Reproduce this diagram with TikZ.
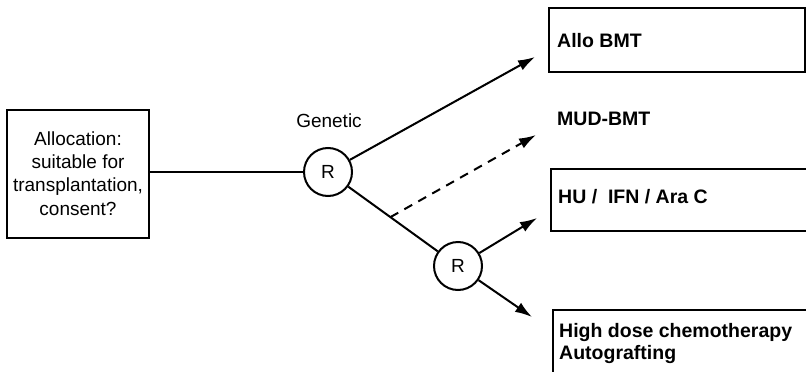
\documentclass[tikz,border=0pt]{standalone}
\usepackage{fontspec}
\setmainfont{Liberation Sans}
\usetikzlibrary{arrows.meta,calc}
\begin{document}
\begin{tikzpicture}[x=1pt,y=-1pt,
  box/.style={draw,line width=1.9pt,rectangle,inner sep=0pt},
  rnode/.style={draw,circle,line width=2pt,minimum size=48pt,inner sep=0pt,font=\fontsize{19}{20}\selectfont},
  lbl/.style={inner sep=0pt,font=\fontsize{19.5}{22}\selectfont\bfseries,anchor=base west},
  plain/.style={inner sep=0pt,font=\fontsize{19}{23.3}\selectfont},
  conn/.style={line width=2pt},
  arr/.style={conn,-{Latex[length=17pt,width=11pt]}},
  dashedarr/.style={arr,dash pattern=on 9pt off 7pt},
]
\useasboundingbox (0,0) rectangle (806,372);

% left box
\node[box,minimum width=142pt,minimum height=128pt] (alloc) at (78,174) {};
\node[plain,align=center] (alloctext) at (78,173.5) {Allocation:\\suitable for\\transplantation,\\consent?};

% randomisation nodes
\node[rnode] (r1) at (328,172) {R};
\node[rnode] (r2) at (458,266) {R};
\node[plain,anchor=base] (gen) at (329,127.5) {Genetic};

% right boxes
\node[box,anchor=north west,minimum width=256pt,minimum height=64pt] (allobox) at (548,7) {};
\node[lbl] (allo) at (557,47) {Allo BMT};
\node[lbl] (mud) at (557,125) {MUD-BMT};
\node[box,anchor=north west,minimum width=256pt,minimum height=62pt] (hubox) at (550,168) {};
\node[lbl] (hu) at (558,203) {HU /~~IFN / Ara C};
\node[box,anchor=north west,minimum width=290pt,minimum height=100pt] (hdbox) at (552,309) {};
\node[lbl] (hd1) at (559,337) {High dose chemotherapy};
\node[lbl] (hd2) at (559,359) {Autografting};

% arrow tips
\coordinate (tA) at (535,57);
\coordinate (tM) at (536,135);
\coordinate (tH) at (537,218);
\coordinate (tB) at (532,317);
\coordinate (split) at ($(r1)!0.48!(r2)$);

% connectors
\draw[conn] (alloc.east |- r1) -- (r1);
\draw[arr] (r1) -- (tA);
\draw[conn] (r1) -- (r2);
\draw[dashedarr] (split) -- (tM);
\draw[arr] (r2) -- (tH);
\draw[arr] (r2) -- (tB);
\end{tikzpicture}
\end{document}
